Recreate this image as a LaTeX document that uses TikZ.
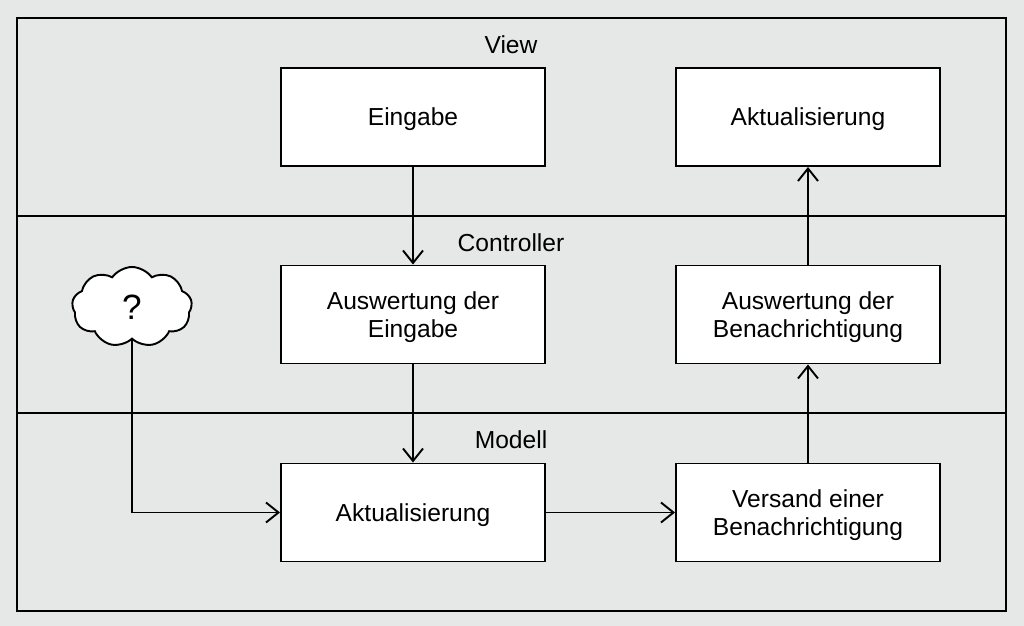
\documentclass[tikz,border=0pt]{standalone}
\usepackage{fontspec}
\setmainfont{Liberation Sans}
\usetikzlibrary{shapes.symbols,arrows.meta}
\definecolor{bggray}{HTML}{E6E8E7}
\tikzset{
  stepbox/.style={draw=black, fill=white, line width=1.1pt, minimum width=5.28cm, minimum height=1.96cm, align=center, font=\fontsize{14}{16}\selectfont, text depth=-1.7pt},
  layer/.style={font=\fontsize{14}{16}\selectfont},
  flow/.style={draw=black, line width=1.1pt, -{Straight Barb[length=2.5mm,width=4mm,line width=1.1pt]}}
}
\begin{document}
\begin{tikzpicture}
            \fill[bggray] (0,0) rectangle (20.48,12.52);
            \useasboundingbox (0,0) rectangle (20.48,12.52);
            \draw[draw=black, line width=1.1pt] (0.34,0.30) rectangle (20.12,12.16);
            \draw[draw=black, line width=1.1pt] (0.34,8.20) -- (20.12,8.20);
            \draw[draw=black, line width=1.1pt] (0.34,4.26) -- (20.12,4.26);
            % layer titles
            \node[layer] (view) at (10.22,11.62) {View};
            \node[layer] (ctrl) at (10.22,7.66) {Controller};
            \node[layer] (model) at (10.22,3.72) {Modell};
            % boxes
            \node[stepbox] (eingabe) at (8.26,10.18) {Eingabe};
            \node[stepbox] (aktview) at (16.16,10.18) {Aktualisierung};
            \node[stepbox] (auswein) at (8.26,6.23) {Auswertung der\\Eingabe};
            \node[stepbox] (auswben) at (16.16,6.23) {Auswertung der\\Benachrichtigung};
            \node[stepbox] (aktmod) at (8.26,2.27) {Aktualisierung};
            \node[stepbox] (versand) at (16.16,2.27) {Versand einer\\Benachrichtigung};
            \node[draw=black, fill=white, line width=1.1pt, cloud, cloud puffs=9, cloud puff arc=110, aspect=1.5, minimum width=2.4cm, minimum height=1.6cm, font=\fontsize{20}{24}\selectfont] (what) at (2.64,6.38) {?};
            % arrows
            \draw[flow] (eingabe) -- (auswein);
            \draw[flow] (auswein) -- (aktmod);
            \draw[flow] (what.south) |- (aktmod.west);
            \draw[flow] (aktmod) -- (versand);
            \draw[flow] (versand) -- (auswben);
            \draw[flow] (auswben) -- (aktview);
        \end{tikzpicture}
\end{document}
